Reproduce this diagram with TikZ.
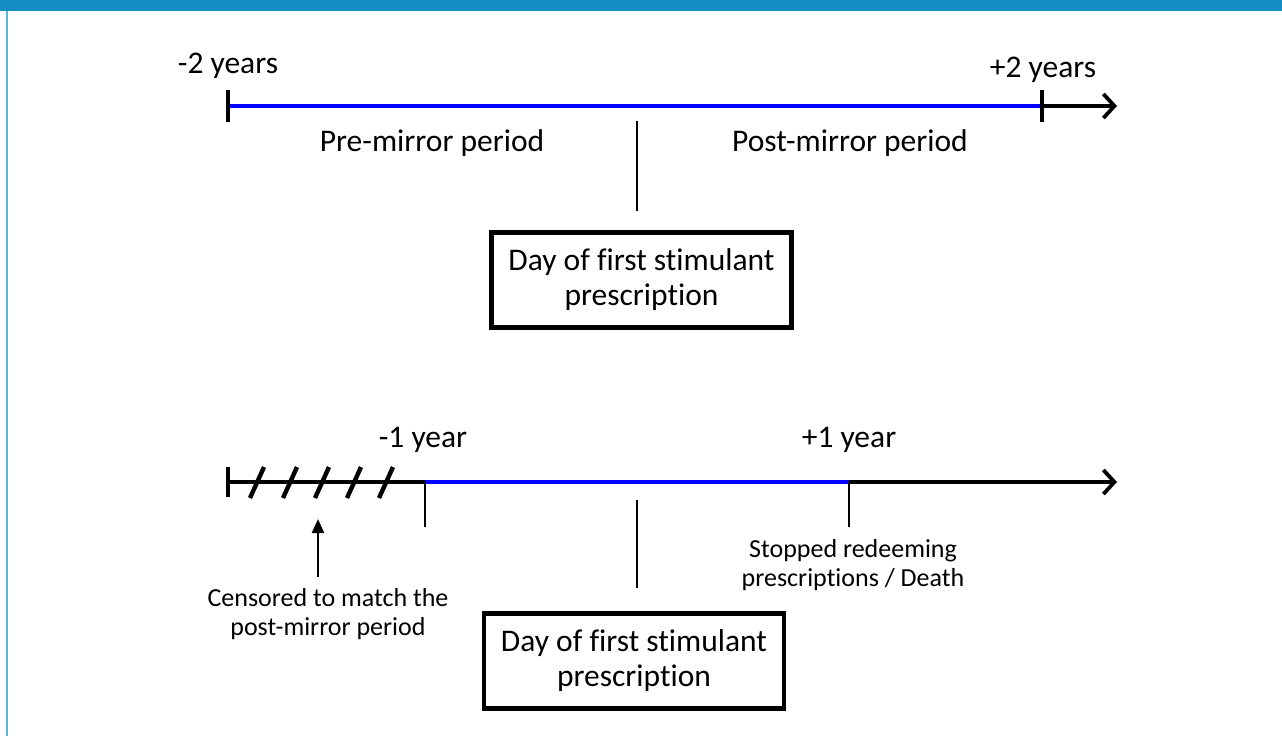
\documentclass[tikz,border=0pt]{standalone}
\usepackage{fontspec}
\setmainfont{Carlito}[Ligatures=NoCommon]
\usetikzlibrary{arrows.meta}

\tikzset{
  axis/.style={line width=4pt, -{Straight Barb[length=11pt,width=24pt,line width=3.8pt]}},
  period/.style={line width=4.6pt, blue},
  tickmark/.style={line width=4.8pt},
  hatch/.style={line width=4.4pt},
  marker/.style={line width=2.4pt},
  daybox/.style={draw, line width=4.2pt, align=center, minimum width=300pt, minimum height=95pt, font=\fontsize{31.5}{35}\selectfont},
  biglabel/.style={font=\fontsize{31.5}{35}\selectfont},
  smalllabel/.style={align=center, font=\fontsize{26}{29.5}\selectfont}
}
\definecolor{banner}{RGB}{20,140,196}
\definecolor{frameline}{RGB}{90,180,220}

\begin{document}
\begin{tikzpicture}[x=1pt,y=-1pt]
  \useasboundingbox (0,0) rectangle (1282,736);
  % Frame
  \fill[banner] (0,0) rectangle (1282,11);
  \draw[frameline, line width=2.5pt] (7,11) -- (7,736);

  % Timeline (Top)
  \coordinate (a1) at (228,106);
  \coordinate (b1) at (1042,106);
  \coordinate (e1) at (1117,106);
  \coordinate (m1) at (637,121);
  \draw[axis] (b1) -- (e1);
  \draw[period] (a1) -- (b1);
  \draw[tickmark] (228,90) -- (228,122);
  \draw[tickmark] (1042,90) -- (1042,122);
  \node[biglabel] (lft1) at (228,66) {-2 years};
  \node[biglabel] (rgt1) at (1043,70) {+2 years};
  \node[biglabel] (pre) at (432,143) {Pre-mirror period};
  \node[biglabel] (post) at (850,143) {Post-mirror period};
  \node[daybox] (day1) at (641.5,280) {Day of first stimulant\\prescription};
  \draw[marker] (m1) -- (m1 |- 0,211);

  % Timeline (Bottom)
  \coordinate (a2) at (228,482);
  \coordinate (c2) at (425,482);
  \coordinate (d2) at (849,482);
  \coordinate (e2) at (1117,482);
  \draw[axis] (a2) -- (e2);
  \draw[period] (c2) -- (d2);
  \draw[tickmark] (228,467) -- (228,497);
  \foreach \x in {257,290,322,354,386}
    \draw[hatch] (\x-7,498) -- (\x+7,467);
  \node[biglabel] (lft2) at (423,440) {-1 year};
  \node[biglabel] (rgt2) at (849,440) {+1 year};
  \draw[marker] (c2) -- ++(0,45);
  \draw[marker] (d2) -- ++(0,45);
  \node[smalllabel] (stop) at (853,565) {Stopped redeeming\\prescriptions / Death};
  \node[smalllabel] (cens) at (328,614) {Censored to match the\\post-mirror period};
  \draw[line width=2.2pt, -{Triangle[length=14pt,width=12pt]}] (cens.north -| 318,0) ++(0,-8) coordinate (cb) -- (318,519);
  \draw[marker] (637,500) -- (637,588);
  \node[daybox] (day2) at (634,661) {Day of first stimulant\\prescription};
\end{tikzpicture}
\end{document}
